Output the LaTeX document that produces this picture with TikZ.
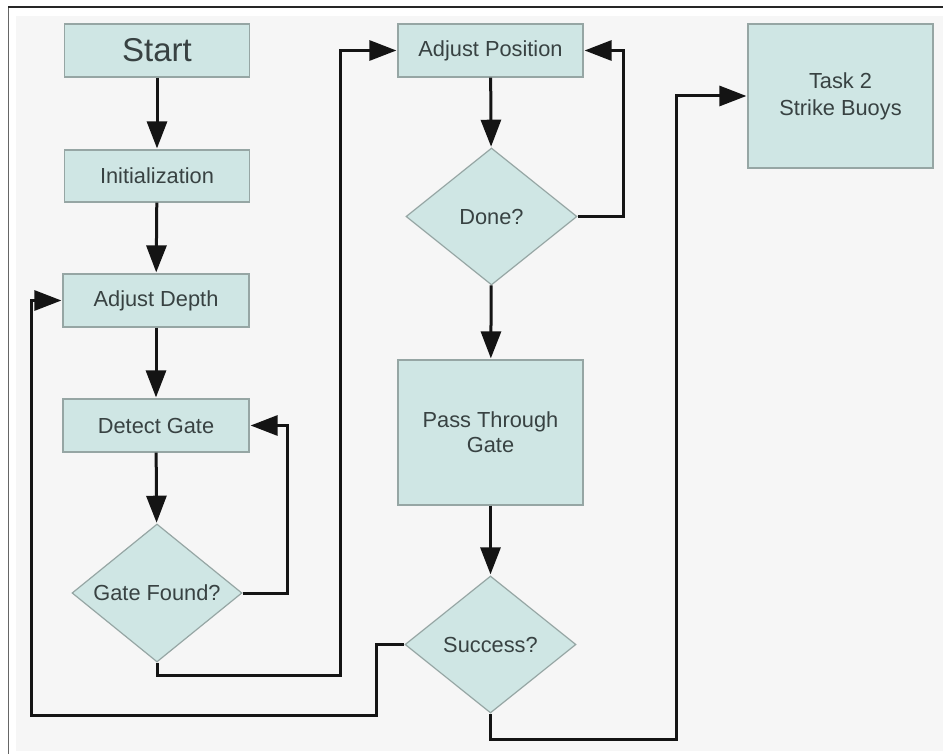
\documentclass[tikz,border=0pt]{standalone}
\usepackage{fontspec}
\setmainfont{Liberation Sans}
\usetikzlibrary{shapes.geometric,arrows.meta}
\definecolor{boxfill}{RGB}{207,230,228}
\definecolor{boxline}{RGB}{150,166,164}
\definecolor{boxtext}{RGB}{56,66,66}
\definecolor{canvas}{RGB}{246,246,246}
\definecolor{wire}{RGB}{20,20,20}
\begin{document}
\begin{tikzpicture}[x=1pt,y=-1pt,
  procbox/.style={draw=boxline, line width=1.2pt, fill=boxfill, text=boxtext,
    inner sep=0pt, font=\fontsize{21.8}{25}\selectfont, align=center},
  decision/.style={diamond, draw=boxline, line width=1.2pt, fill=boxfill, text=boxtext,
    inner sep=0pt, aspect=1.25, font=\fontsize{21.8}{25}\selectfont},
  flow/.style={draw=wire, line width=3pt,
    -{Triangle[length=27pt,width=20pt]}, shorten >=1pt},
  link/.style={draw=wire, line width=3pt}]
  \useasboundingbox (0,0) rectangle (943,754);
  % page frame and canvas
  \fill[white] (0,0) rectangle (943,754);
  \fill[canvas] (16,16) rectangle (943,751);
  \draw[gray!80!black, line width=1.5pt] (8.5,7) -- (8.5,754);
  \draw[black!85, line width=1.5pt] (8,7) -- (943,7);

  % left column
  \node[procbox, minimum width=185pt, minimum height=53pt,
        font=\fontsize{33}{36}\selectfont] (start) at (157,50.5) {Start};
  \node[procbox, minimum width=185pt, minimum height=52pt] (init) at (157,176) {Initialization};
  \node[procbox, minimum width=186pt, minimum height=53pt] (depth) at (156,300.5) {Adjust Depth};
  \node[procbox, minimum width=186pt, minimum height=53pt] (detect) at (156,425.5) {Detect Gate};
  \node[decision, minimum width=170pt, minimum height=138pt] (found) at (157,593) {Gate Found?};

  % middle column
  \node[procbox, minimum width=185pt, minimum height=53pt] (pos) at (490.5,50.5) {Adjust Position};
  \node[decision, minimum width=171pt, minimum height=137pt] (done) at (491.5,216.5) {Done?};
  \node[procbox, minimum width=185pt, minimum height=145pt] (pass) at (490.5,432.5) {Pass Through\\Gate};
  \node[decision, minimum width=171pt, minimum height=137pt] (success) at (490.5,644.5) {Success?};

  % right column
  \node[procbox, minimum width=185pt, minimum height=144pt] (task) at (840.5,96) {Task 2\\[2pt]Strike Buoys};

  % straight flow
  \draw[flow] (start) -- (init);
  \draw[flow] (init) -- (depth);
  \draw[flow] (depth) -- (detect);
  \draw[flow] (detect) -- (found);
  \draw[flow] (pos) -- (done);
  \draw[flow] (done) -- (pass);
  \draw[flow] (pass) -- (success);

  % loops and branches
  \draw[flow] (found.east) -- ++(45,0) |- (detect.east);
  \draw[flow] (found.south) |- (340,675) |- (pos.west);
  \draw[flow] (done.east) -- ++(46,0) |- (pos.east);
  \draw[flow] (success.west) -| (376,715) -| (31,300.5) -- (depth.west);
  \draw[flow] (success.south) |- (676,739) |- (task.west);
\end{tikzpicture}
\end{document}
